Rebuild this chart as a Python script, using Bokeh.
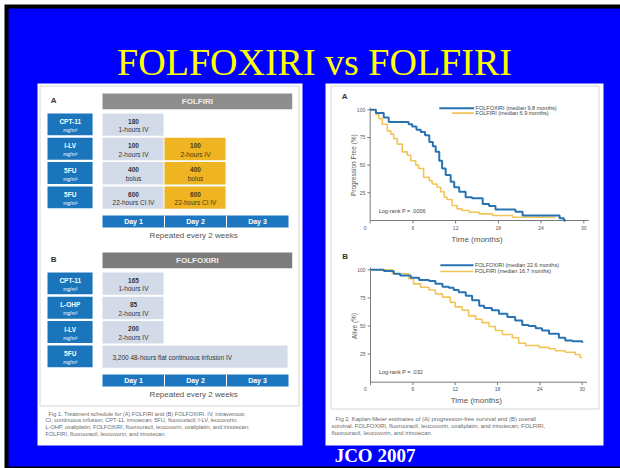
from bokeh.plotting import figure
from bokeh.models import Range1d
from bokeh.core.properties import value
from bokeh.embed import file_html
from bokeh.resources import INLINE

# ---------------- data ----------------
TITLE = "FOLFOXIRI vs FOLFIRI"
SOURCE = "JCO 2007"

days = ["Day 1", "Day 2", "Day 3"]
repeat_note = "Repeated every 2 weeks"

# Schedule A : FOLFIRI
sched_a_name = "FOLFIRI"
sched_a_drugs = ["CPT-11", "l-LV", "5FU", "5FU"]
sched_a_row = [0, 1, 2, 3, 1, 2, 3]
sched_a_day_start = [0, 0, 0, 0, 1, 1, 1]
sched_a_day_end = [1, 1, 1, 1, 2, 2, 2]
sched_a_dose = ["180", "100", "400", "600", "100", "400", "600"]
sched_a_mode = ["1-hours IV", "2-hours IV", "bolus", "22-hours CI IV",
                "2-hours IV", "bolus", "22-hours CI IV"]

# Schedule B : FOLFOXIRI
sched_b_name = "FOLFOXIRI"
sched_b_drugs = ["CPT-11", "L-OHP", "l-LV", "5FU"]
sched_b_row = [0, 1, 2, 3]
sched_b_day_start = [0, 0, 0, 0]
sched_b_day_end = [1, 1, 1, 3]
sched_b_dose = ["165", "85", "200", "3,200"]
sched_b_mode = ["1-hours IV", "2-hours IV", "2-hours IV",
                "48-hours flat continuous infusion IV"]

caption_left = [
    "Fig 1. Treatment schedule for (A) FOLFIRI and (B) FOLFOXIRI. IV, intravenous;",
    "CI, continuous infusion; CPT-11, irinotecan; 5FU, fluorouracil; l-LV, leucovorin;",
    "L-OHP, oxaliplatin; FOLFOXIRI, fluorouracil, leucovorin, oxaliplatin, and irinotecan;",
    "FOLFIRI, fluorouracil, leucovorin, and irinotecan.",
]
caption_right = [
    "Fig 2. Kaplan-Meier estimates of (A) progression-free survival and (B) overall",
    "survival. FOLFOXIRI, fluorouracil, leucovorin, oxaliplatin, and irinotecan; FOLFIRI,",
    "fluorouracil, leucovorin, and irinotecan.",
]

# Kaplan-Meier : progression-free survival (A)
pfs_time_foxiri = [0, 0.8, 1.9, 2.6, 5.4, 5.9, 6.5, 7.1, 7.7, 8.3, 8.8, 9.2, 9.7, 10.1,
                   10.6, 11.3, 11.8, 12.5, 13.4, 14.3, 15.8, 16.7, 17.6, 20.4, 21.4,
                   26.6, 27.2, 27.5]
pfs_surv_foxiri = [100, 97, 93, 89, 87, 85, 82, 80, 77, 71, 67, 62, 54, 47,
                   41, 35, 30, 26, 21, 20, 15, 13, 10, 8, 4.5,
                   2, 0, 0]
pfs_time_firi = [0, 0.8, 1.2, 1.7, 2.4, 2.9, 3.3, 3.8, 4.5, 5.2, 5.7, 6.4, 6.8, 7.5,
                 8.3, 8.7, 9.4, 9.9, 10.4, 10.8, 11.5, 12.2, 12.9, 13.9, 15.3, 17.2,
                 20.0, 26.0]
pfs_surv_firi = [100, 96, 92, 87, 81, 78, 74, 69, 62, 59, 54, 50, 47, 39,
                 36, 33, 30, 26, 21, 19, 13.5, 10.5, 9, 7.5, 6, 4.5,
                 3, 3]
pfs_legend = ["FOLFOXIRI (median 9.8 months)", "FOLFIRI (median 6.9 months)"]
pfs_pvalue = "Log-rank P = .0006"
pfs_ylabel = "Progression Free (%)"

# Kaplan-Meier : overall survival (B)
os_time_foxiri = [0, 1.9, 3.3, 4.2, 5.7, 6.9, 8.3, 9.2, 10.2, 11.1, 11.8, 12.5, 13.5,
                  14.4, 15.4, 16.1, 17.2, 18.2, 19.4, 20.5, 21.5, 22.4, 23.4, 24.3,
                  25.3, 26.7, 27.6, 28.6, 30.0]
os_surv_foxiri = [100, 99, 96.5, 95, 93, 91, 90, 87.5, 85, 84, 82, 80, 77,
                  73, 68, 66, 64, 61, 58, 55, 51, 50, 48, 46,
                  43, 39.5, 37, 36.5, 35]
os_time_firi = [0, 3.1, 5.4, 6.1, 7.1, 8.3, 9.2, 10.2, 11.3, 12.0, 13.0, 13.9, 14.9,
                15.8, 16.8, 17.7, 18.7, 20.1, 21.0, 22.0, 23.9, 25.3, 26.2, 27.6,
                29.0, 29.7, 30.0]
os_surv_firi = [100, 96.5, 92, 87.5, 84.5, 82, 78.6, 75.7, 71, 67, 64, 59, 56,
                53, 49.5, 46, 42.4, 39.5, 34.7, 32.6, 31, 29.7, 28, 26.7,
                24.6, 22, 22]
os_legend = ["FOLFOXIRI (median 22.6 months)", "FOLFIRI (median 16.7 months)"]
os_pvalue = "Log-rank P = .032"
os_ylabel = "Alive (%)"

x_ticks = [0, 6, 12, 18, 24, 30]
y_ticks = [25, 50, 75, 100]
x_label = "Time (months)"

# ---------------- styles ----------------
SANS = value("Liberation Sans")
SERIF = value("Liberation Serif")
BLUE_BG = "#0000FF"
LABEL_BLUE = "#1b75bb"
DAY_BLUE = "#1d77c0"
CELL_LIGHT = "#d3dbe9"
CELL_YELLOW = "#eeb422"
KM_BLUE = "#2a73b2"
KM_YELLOW = "#f3c557"
AXIS = "#7a7a7a"
TXT = "#555555"

W, H = 620, 468
p = figure(width=W, height=H, x_range=Range1d(0, W), y_range=Range1d(H, 0),
           x_axis_type=None, y_axis_type=None, output_backend="svg",
           toolbar_location=None, min_border=0)
p.grid.visible = False
p.outline_line_color = None
p.background_fill_color = "white"
p.border_fill_color = "white"

# slide frame: black edge, blue field
p.quad(left=[4], right=[W + 5], top=[4], bottom=[H + 5], fill_color="black", line_color=None)
p.quad(left=[8], right=[W + 5], top=[8], bottom=[H - 2], fill_color=BLUE_BG, line_color=None)

# white figure panels
p.quad(left=[37, 325], right=[302, 603], top=[83, 83], bottom=[445, 445],
       fill_color="white", line_color=None)
p.quad(left=[39.5, 330.5], right=[298.5, 598.5], top=[85.5, 85.5], bottom=[405.5, 408.5],
       fill_color=None, line_color="#d6d6d6", line_width=1)

# title and source
p.text(x=[314], y=[61], text=[TITLE], text_font=SERIF, text_font_size="38px",
       text_color="#FFFF00", text_align="center", text_baseline="middle")
p.text(x=[374.5], y=[455], text=[SOURCE], text_font=SERIF, text_font_size="19px",
       text_font_style="bold", text_color="white", text_align="center",
       text_baseline="middle")


def schedule(sub, letter, name, header_color, drugs, rows, d0, d1, doses, modes):
    sub.quad(left=[0], right=[3.06], top=[-0.82], bottom=[-0.18],
             fill_color=header_color, line_color=None)
    sub.text(x=[1.53], y=[-0.5], text=[name], text_font=SANS, text_font_style="bold",
             text_font_size="8px", text_color="#eeeeee", text_align="center",
             text_baseline="middle")
    sub.text(x=[-0.79], y=[-0.55], text=[letter], text_font=SANS, text_font_style="bold",
             text_font_size="8px", text_color="#333333", text_align="center",
             text_baseline="middle")
    n = len(drugs)
    r = list(range(n))
    sub.quad(left=[-0.887] * n, right=[-0.16] * n, top=r, bottom=[i + 0.9 for i in r],
             fill_color=LABEL_BLUE, line_color=None)
    sub.text(x=[-0.52] * n, y=[i + 0.33 for i in r], text=drugs, text_font=SANS,
             text_font_style="bold", text_font_size="6.5px", text_color="white",
             text_align="center", text_baseline="middle")
    sub.text(x=[-0.52] * n, y=[i + 0.68 for i in r], text=["mg/m\u00b2"] * n,
             text_font=SANS, text_font_size="5px", text_color="white",
             text_align="center", text_baseline="middle")
    fills = [CELL_LIGHT if s == 0 else CELL_YELLOW for s in d0]
    sub.quad(left=d0, right=[e - 0.015 for e in d1], top=rows,
             bottom=[i + 0.92 for i in rows], fill_color=fills, line_color=None)
    narrow = [k for k in range(len(rows)) if d1[k] - d0[k] <= 1]
    wide = [k for k in range(len(rows)) if d1[k] - d0[k] > 1]
    if narrow:
        inks = ["#333333" if d0[k] == 0 else "#4a3a10" for k in narrow]
        sub.text(x=[(d0[k] + d1[k]) / 2 for k in narrow], y=[rows[k] + 0.32 for k in narrow],
                 text=[doses[k] for k in narrow], text_font=SANS, text_font_style="bold",
                 text_font_size="6.5px", text_color=inks, text_align="center",
                 text_baseline="middle")
        sub.text(x=[(d0[k] + d1[k]) / 2 for k in narrow], y=[rows[k] + 0.67 for k in narrow],
                 text=[modes[k] for k in narrow], text_font=SANS,
                 text_font_size="6.5px", text_color=inks, text_align="center",
                 text_baseline="middle")
    if wide:
        sub.text(x=[d0[k] + 0.16 for k in wide], y=[rows[k] + 0.48 for k in wide],
                 text=[doses[k] + "  " + modes[k] for k in wide], text_font=SANS,
                 text_font_size="6.5px", text_color="#333333", text_align="left",
                 text_baseline="middle")
    nd = len(days)
    sub.quad(left=[0], right=[nd], top=[4.2], bottom=[4.69], fill_color=DAY_BLUE,
             line_color=None)
    sub.segment(x0=list(range(1, nd)), x1=list(range(1, nd)), y0=[4.2] * (nd - 1),
                y1=[4.69] * (nd - 1), line_color="white", line_width=1)
    sub.text(x=[i + 0.5 for i in range(nd)], y=[4.45] * nd, text=days, text_font=SANS,
             text_font_style="bold", text_font_size="7px", text_color="white",
             text_align="center", text_baseline="middle")
    sub.text(x=[1.47], y=[5.04], text=[repeat_note], text_font=SANS,
             text_font_size="8px", text_color=TXT, text_align="center",
             text_baseline="middle")


sa = p.subplot(x_source=Range1d(0, 3), y_source=Range1d(0, 4),
               x_target=Range1d(102, 288), y_target=Range1d(113, 210.2))
schedule(sa, "A", sched_a_name, "#8e8e8e", sched_a_drugs, sched_a_row,
         sched_a_day_start, sched_a_day_end, sched_a_dose, sched_a_mode)

sb = p.subplot(x_source=Range1d(0, 3), y_source=Range1d(0, 4),
               x_target=Range1d(102, 288), y_target=Range1d(272, 369.2))
schedule(sb, "B", sched_b_name, "#7c7c7c", sched_b_drugs, sched_b_row,
         sched_b_day_start, sched_b_day_end, sched_b_dose, sched_b_mode)


def km(sub, letter, t1, s1, t2, s2, legend, pval, ylabel, leg_y, leg_x0):
    sub.line(x=[0, 0], y=[0, 102], line_color=AXIS, line_width=1)
    sub.line(x=[0, 30.7], y=[0, 0], line_color=AXIS, line_width=1)
    sub.segment(x0=x_ticks, x1=x_ticks, y0=[0] * len(x_ticks), y1=[-2.6] * len(x_ticks),
                line_color=AXIS, line_width=1)
    sub.segment(x0=[0] * len(y_ticks), x1=[-0.4] * len(y_ticks), y0=y_ticks, y1=y_ticks,
                line_color=AXIS, line_width=1)
    sub.text(x=x_ticks[1:], y=[0] * (len(x_ticks) - 1), text=[str(v) for v in x_ticks[1:]],
             text_font=SANS, text_font_size="5px", text_color=TXT, text_align="center",
             text_baseline="top", y_offset=5)
    sub.text(x=x_ticks[:1], y=[0], text=[str(x_ticks[0])], text_font=SANS,
             text_font_size="5px", text_color=TXT, text_align="center",
             text_baseline="top", y_offset=5, x_offset=-5)
    sub.text(x=[0] * len(y_ticks), y=y_ticks, text=[str(v) for v in y_ticks],
             text_font=SANS, text_font_size="5px", text_color=TXT, text_align="right",
             text_baseline="middle", x_offset=-5)
    sub.step(x=t2, y=s2, mode="after", line_color=KM_YELLOW, line_width=1.6)
    sub.step(x=t1, y=s1, mode="after", line_color=KM_BLUE, line_width=2)
    sub.line(x=[leg_x0[0], 14.6], y=[leg_y[0], leg_y[0]], line_color=KM_BLUE, line_width=2)
    sub.line(x=[leg_x0[1], 14.6], y=[leg_y[1], leg_y[1]], line_color=KM_YELLOW, line_width=1.6)
    sub.text(x=[14.8, 14.8], y=leg_y, text=legend, text_font=SANS, text_font_size="5.5px",
             text_color="#444444", text_align="left", text_baseline="middle")
    sub.text(x=[1.2], y=[9], text=[pval], text_font=SANS, text_font_size="5.5px",
             text_color="#444444", text_align="left", text_baseline="middle")
    sub.text(x=[15], y=[0], text=[x_label], text_font=SANS, text_font_size="8px",
             text_color=TXT, text_align="center", text_baseline="top", y_offset=14)
    sub.text(x=[0], y=[50], text=[ylabel], text_font=SANS, text_font_size="6.5px",
             text_color=TXT, text_align="center", text_baseline="bottom", angle=1.5708,
             x_offset=-13)
    sub.text(x=[-3.6], y=[112], text=[letter], text_font=SANS, text_font_style="bold",
             text_font_size="8px", text_color="#333333", text_align="center",
             text_baseline="middle")


ka = p.subplot(x_source=Range1d(0, 30), y_source=Range1d(0, 100),
               x_target=Range1d(369.7, 583.3), y_target=Range1d(220, 109.3))
km(ka, "A", pfs_time_foxiri, pfs_surv_foxiri, pfs_time_firi, pfs_surv_firi,
   pfs_legend, pfs_pvalue, pfs_ylabel, [101.5, 97], [9.7, 11.5])

kb = p.subplot(x_source=Range1d(0, 30), y_source=Range1d(0, 100),
               x_target=Range1d(370, 581.7), y_target=Range1d(381.7, 269.3))
km(kb, "B", os_time_foxiri, os_surv_foxiri, os_time_firi, os_surv_firi,
   os_legend, os_pvalue, os_ylabel, [104, 98.5], [9.9, 9.9])

# captions
p.text(x=[48] + [45] * (len(caption_left) - 1),
       y=[413 + 6.7 * i for i in range(len(caption_left))], text=caption_left,
       text_font=SANS, text_font_size="5.6px", text_color="#6a6a6a",
       text_align="left", text_baseline="middle")
p.text(x=[335] + [331] * (len(caption_right) - 1),
       y=[418 + 7.3 * i for i in range(len(caption_right))], text=caption_right,
       text_font=SANS, text_font_size="5.9px", text_color="#6a6a6a",
       text_align="left", text_baseline="middle")

open("out.html", "w").write(file_html(p, INLINE))
